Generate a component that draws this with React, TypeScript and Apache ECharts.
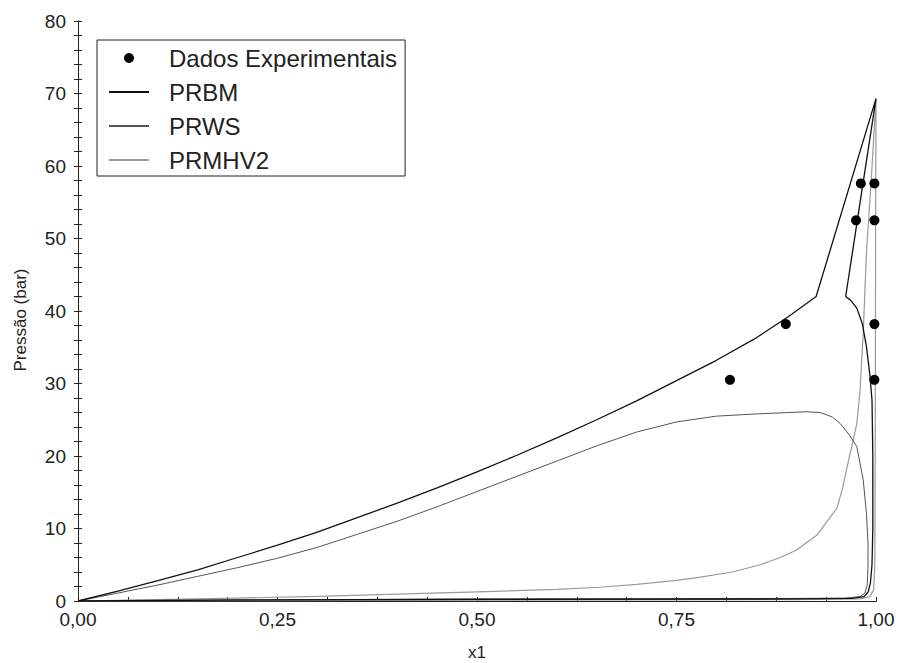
import React, { useEffect, useRef } from "react";
import * as echarts from "echarts";

const experimental: number[][] = [
  [0.817, 30.5], [0.887, 38.2], [0.998, 30.5], [0.998, 38.2],
  [0.975, 52.5], [0.998, 52.5], [0.981, 57.6], [0.998, 57.6],
];

const prbm: number[][] = [
  [0, 0], [0.05, 1.35], [0.1, 2.8], [0.15, 4.3], [0.2, 6.0], [0.25, 7.7], [0.3, 9.5],
  [0.35, 11.5], [0.4, 13.5], [0.45, 15.6], [0.5, 17.8], [0.55, 20.1], [0.6, 22.5],
  [0.65, 25.0], [0.7, 27.6], [0.75, 30.4], [0.8, 33.2], [0.85, 36.3], [0.89, 39.2],
  [0.925, 42.0], [1.0, 69.3], [0.962, 42.0], [0.968, 41.5], [0.976, 40.4], [0.983, 38.2],
  [0.988, 35.1], [0.992, 31.5], [0.995, 27.7], [0.996, 20], [0.996, 10], [0.995, 5],
  [0.993, 2.5], [0.99, 1.2], [0.985, 0.6], [0.97, 0.35], [0.9, 0.28], [0.5, 0.22],
  [0.2, 0.15], [0, 0],
];

const prws: number[][] = [
  [0, 0], [0.05, 1.1], [0.1, 2.2], [0.15, 3.4], [0.2, 4.6], [0.25, 5.9], [0.3, 7.4],
  [0.35, 9.2], [0.4, 11.0], [0.45, 13.0], [0.5, 15.1], [0.55, 17.2], [0.6, 19.3],
  [0.65, 21.4], [0.7, 23.3], [0.75, 24.7], [0.8, 25.5], [0.85, 25.8], [0.913, 26.1],
  [0.93, 26.0], [0.945, 25.4], [0.955, 24.5], [0.966, 23.0], [0.976, 21.3], [0.984, 16.7],
  [0.988, 12.1], [0.99, 8.0], [0.99, 4.7], [0.989, 2.2], [0.986, 1.1], [0.98, 0.6],
  [0.96, 0.4], [0.9, 0.35], [0.5, 0.3], [0, 0],
];

const prmhv2: number[][] = [
  [0, 0], [0.1, 0.2], [0.2, 0.4], [0.3, 0.65], [0.4, 0.95], [0.5, 1.25], [0.6, 1.6],
  [0.654, 1.9], [0.7, 2.3], [0.75, 2.85], [0.78, 3.3], [0.82, 4.0], [0.855, 5.0],
  [0.88, 6.0], [0.9, 7.0], [0.926, 9.1], [0.951, 12.8], [0.958, 15.5], [0.963, 18.1],
  [0.97, 21.5], [0.976, 24.5], [0.98, 29], [0.984, 37], [0.988, 48], [0.994, 58],
  [1.0, 69.3], [0.9995, 50], [0.999, 20], [0.9985, 5], [0.997, 1.5], [0.992, 0.6],
  [0.98, 0.3], [0.9, 0.2], [0, 0],
];

const seriesNames = ["Dados Experimentais", "PRBM", "PRWS", "PRMHV2"];

const FONT = "Liberation Sans, Arial, sans-serif";

export default function App() {
  const ref = useRef<HTMLDivElement>(null);
  useEffect(() => {
    if (!ref.current) return;
    const chart = echarts.init(ref.current, null, { renderer: "svg" });
    const axisLine = { show: true, lineStyle: { color: "#222", width: 1 } };
    const hideSymbol = { itemStyle: { opacity: 0 } };
    chart.setOption({
      animation: false,
      backgroundColor: "#fff",
      grid: { left: 78, right: 24, top: 21, bottom: 62, containLabel: false },
      legend: {
        orient: "vertical",
        left: 97,
        top: 40,
        padding: [6, 8, 4, 11],
        itemWidth: 40,
        itemHeight: 10,
        itemGap: 10,
        borderColor: "#222",
        borderWidth: 1,
        backgroundColor: "#fff",
        textStyle: { fontFamily: FONT, fontSize: 24, color: "#222", padding: [0, 0, 0, 15] },
        data: [
          { name: seriesNames[0], icon: "circle" },
          { name: seriesNames[1], ...hideSymbol },
          { name: seriesNames[2], ...hideSymbol },
          { name: seriesNames[3], ...hideSymbol },
        ],
      },
      xAxis: [
        {
          type: "value",
          min: 0,
          max: 1,
          interval: 0.25,
          position: "bottom",
          axisLine,
          axisTick: { show: true, inside: true, length: 4, lineStyle: { color: "#222" } },
          minorTick: { show: true, splitNumber: 4, length: 4, lineStyle: { color: "#222" } },
          splitLine: { show: false },
          axisLabel: {
            fontFamily: FONT,
            fontSize: 19,
            color: "#222",
            margin: 9,
            formatter: (v: number) => v.toFixed(2).replace(".", ","),
          },
        },
        {
          type: "value",
          min: 0,
          max: 1,
          position: "top",
          axisLine,
          axisTick: { show: false },
          axisLabel: { show: false },
          splitLine: { show: false },
        },
      ],
      yAxis: [
        {
          type: "value",
          min: 0,
          max: 80,
          interval: 10,
          position: "left",
          axisLine,
          axisTick: { show: true, inside: true, length: 4, lineStyle: { color: "#222" } },
          minorTick: { show: true, splitNumber: 5, length: 4, lineStyle: { color: "#222" } },
          splitLine: { show: false },
          axisLabel: { fontFamily: FONT, fontSize: 19, color: "#222", margin: 12 },
        },
        {
          type: "value",
          min: 0,
          max: 80,
          interval: 10,
          position: "right",
          axisLine,
          axisTick: { show: true, inside: true, length: 4, lineStyle: { color: "#222" } },
          minorTick: { show: true, splitNumber: 5, length: 4, lineStyle: { color: "#222" } },
          splitLine: { show: false },
          axisLabel: { show: false },
        },
      ],
      graphic: [
        {
          type: "text",
          x: 477,
          y: 652,
          style: { text: "x1", fontFamily: FONT, fontSize: 17, fill: "#222", align: "center", verticalAlign: "middle" },
        },
        {
          type: "text",
          x: 20,
          y: 320,
          rotation: Math.PI / 2,
          style: { text: "Pressão (bar)", fontFamily: FONT, fontSize: 17, fill: "#222", align: "center", verticalAlign: "middle" },
        },
      ],
      series: [
        {
          name: seriesNames[1],
          type: "line",
          data: prbm,
          symbol: "none",
          showSymbol: false,
          lineStyle: { color: "#111", width: 1.3 },
          itemStyle: { color: "#111" },
          z: 3,
        },
        {
          name: seriesNames[2],
          type: "line",
          data: prws,
          symbol: "none",
          showSymbol: false,
          lineStyle: { color: "#555", width: 1 },
          itemStyle: { color: "#555" },
          z: 2,
        },
        {
          name: seriesNames[3],
          type: "line",
          data: prmhv2,
          symbol: "none",
          showSymbol: false,
          lineStyle: { color: "#9a9a9a", width: 1.2 },
          itemStyle: { color: "#9a9a9a" },
          z: 1,
        },
        {
          name: seriesNames[0],
          type: "scatter",
          data: experimental,
          symbol: "circle",
          symbolSize: 10,
          itemStyle: { color: "#000", opacity: 1 },
          z: 4,
        },
      ],
    });
    return () => chart.dispose();
  }, []);
  return <div ref={ref} style={{ position: "absolute", left: 0, top: 0, width: 900, height: 663 }} />;
}
